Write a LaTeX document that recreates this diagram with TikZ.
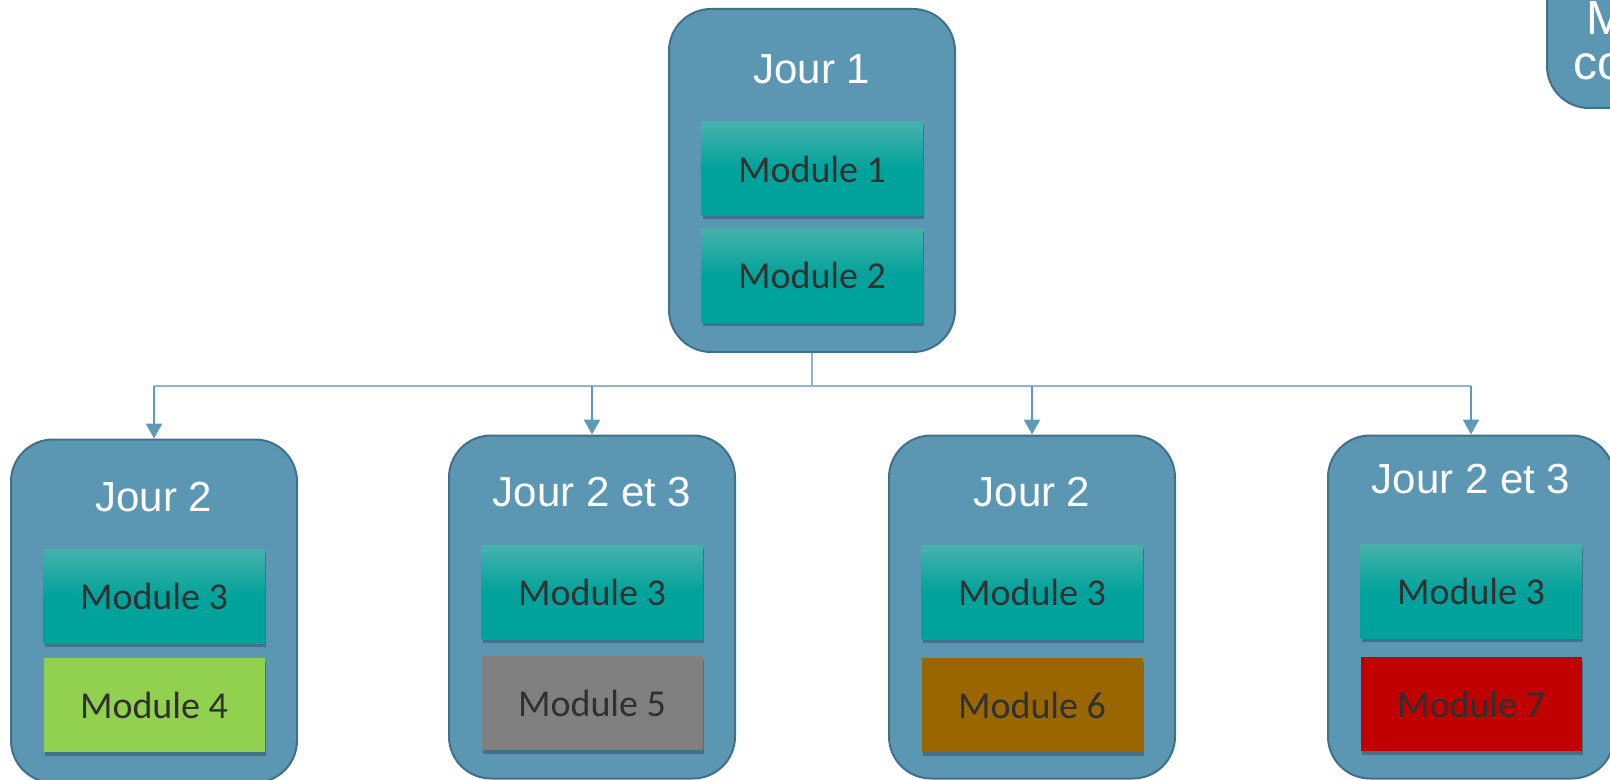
\documentclass[tikz,border=0pt]{standalone}
\usepackage{fontspec}
\setmainfont{Liberation Sans}
\newfontfamily\carlito{Carlito}
\usepackage{xcolor}
\usepackage{tikz}
\usetikzlibrary{arrows.meta,positioning,shadows}
\definecolor{dayfill}{HTML}{5B97B3}
\definecolor{dayline}{HTML}{41718A}
\definecolor{linkblue}{HTML}{8DB8CC}
\definecolor{arrowblue}{HTML}{5E9AB7}
\definecolor{tealtop}{HTML}{46B1AC}
\definecolor{tealbot}{HTML}{00A39B}
\definecolor{modtext}{HTML}{303030}
\definecolor{modgreen}{HTML}{92D050}
\definecolor{modgray}{HTML}{808080}
\definecolor{modbrown}{HTML}{996600}
\definecolor{modred}{HTML}{C00000}
\definecolor{shade}{HTML}{2E5266}

\begin{document}
\begin{tikzpicture}[
  x=0.5pt, y=-0.5pt,
  day/.style={draw=dayline, line width=1pt, fill=dayfill, rounded corners=21pt,
              minimum width=143pt, minimum height=171.5pt},
  daytitle/.style={text=white, font=\fontsize{21}{25}\selectfont},
  module/.style={minimum width=110.5pt, minimum height=47pt, text=modtext,
                 font=\carlito\fontsize{19}{23}\selectfont,
                 drop shadow={shadow xshift=0.6pt, shadow yshift=-1.6pt,
                              fill=shade, opacity=0.55}},
  teal/.style={module, top color=tealtop, bottom color=tealbot, middle color=tealbot},
  link/.style={draw=linkblue, line width=1pt},
  arrow/.style={-{Triangle[length=7.5pt, width=8pt]}, line width=1.2pt, draw=arrowblue}
]
  \useasboundingbox (0,0) rectangle (1610,780);

  % day blocks
  \node[day] (j1) at (812,180.5) {};
  \node[day] (d1) at (154,611) {};
  \node[day] (d2) at (592,607) {};
  \node[day] (d3) at (1032,607) {};
  \node[day] (d4) at (1471,607) {};
  \node[day, minimum height=80pt] (extra) at (1690,28) {};

  % titles
  \node[daytitle] (t1) at ([yshift=-30.5pt]j1.north) {Jour 1};
  \node[daytitle] (t2) at ([yshift=-29.5pt]d1.north) {Jour 2};
  \node[daytitle] (t3) at ([yshift=-29pt]d2.north) {Jour 2 et 3};
  \node[daytitle] (t4) at ([yshift=-29pt]d3.north) {Jour 2};
  \node[daytitle] (t5) at ([yshift=-22.5pt]d4.north) {Jour 2 et 3};
  \node[text=white, font=\fontsize{24}{28}\selectfont, anchor=base west]
    (x1) at (1579,35) {M};
  \node[text=white, font=\fontsize{24}{28}\selectfont, anchor=base west]
    (x2) at (1566,80) {co};

  % modules
  \node[teal] (m1) at ([yshift=-80.5pt]j1.north) {Module 1};
  \node[teal, below=6pt of m1] (m2) {Module 2};
  \node[teal] (m3a) at ([yshift=-79pt]d1.north) {Module 3};
  \node[module, fill=modgreen, below=7pt of m3a] (m4) {Module 4};
  \node[teal] (m3b) at ([yshift=-79pt]d2.north) {Module 3};
  \node[module, fill=modgray, below=8pt of m3b] (m5) {Module 5};
  \node[teal] (m3c) at ([yshift=-79pt]d3.north) {Module 3};
  \node[module, fill=modbrown, below=9pt of m3c] (m6) {Module 6};
  \node[teal] (m3d) at ([yshift=-78.5pt]d4.north) {Module 3};
  \node[module, fill=modred, below=9pt of m3d] (m7) {Module 7};

  % connectors
  \coordinate (bus) at (812,386);
  \draw[link] (j1.south) -- (bus);
  \draw[link] (d1.north |- bus) -- (d4.north |- bus);
  \foreach \d in {d1,d2,d3,d4}
    \draw[arrow] (\d.north |- bus) -- (\d.north);
\end{tikzpicture}
\end{document}
